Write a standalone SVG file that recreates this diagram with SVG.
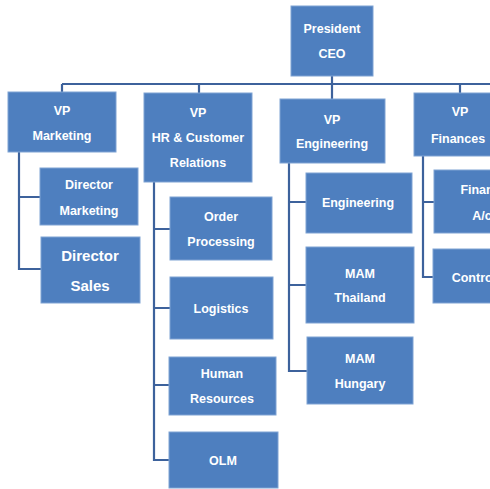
<svg xmlns="http://www.w3.org/2000/svg" width="490" height="489" viewBox="0 0 490 489">
  <style>
    .box { fill: #4e7fbf; stroke: #7fa3d3; stroke-width: 1; }
    .lbl { font-family: "Liberation Sans", Arial, sans-serif; font-weight: bold; font-size: 12.5px; fill: #ffffff; text-anchor: middle; }
    .big { font-size: 15px; }
    .conn { fill: none; stroke: #3d629c; stroke-width: 2.2; }
  </style>
  <rect width="490" height="489" fill="#ffffff"/>

  <!-- reporting lines -->
  <g id="connectors" class="conn">
    <path d="M62 84 H490"/>
    <path d="M62 84 V92 M199 84 V93 M332 76 V99 M460 84 V93"/>
    <!-- marketing -->
    <path d="M19 152 V269 H41 M19 197 H40"/>
    <!-- hr & customer relations -->
    <path d="M154 182 V460 H169 M154 229 H170 M154 308 H170 M154 385 H169"/>
    <!-- engineering -->
    <path d="M289 163 V371 H307 M289 202 H306 M289 285 H306"/>
    <!-- finances -->
    <path d="M423 156 V277 H433 M423 202 H434"/>
  </g>

  <g id="president">
    <rect class="box" x="291" y="6" width="82" height="70"/>
    <text class="lbl" x="332" y="33">President</text>
    <text class="lbl" x="332" y="58">CEO</text>
  </g>

  <g id="vp-marketing">
    <rect class="box" x="8" y="92" width="108" height="60"/>
    <text class="lbl" x="62" y="115">VP</text>
    <text class="lbl" x="62" y="140">Marketing</text>
  </g>
  <g id="vp-hr">
    <rect class="box" x="144" y="93" width="108" height="89"/>
    <text class="lbl" x="198" y="117">VP</text>
    <text class="lbl" x="198" y="142">HR &amp; Customer</text>
    <text class="lbl" x="198" y="167">Relations</text>
  </g>
  <g id="vp-engineering">
    <rect class="box" x="280" y="99" width="105" height="64"/>
    <text class="lbl" x="332" y="124">VP</text>
    <text class="lbl" x="332" y="148">Engineering</text>
  </g>
  <g id="vp-finances">
    <rect class="box" x="414" y="93" width="92" height="63"/>
    <text class="lbl" x="460" y="116">VP</text>
    <text class="lbl" x="458" y="143">Finances</text>
  </g>

  <g id="director-marketing">
    <rect class="box" x="40" y="168" width="98" height="57"/>
    <text class="lbl" x="89" y="189">Director</text>
    <text class="lbl" x="89" y="215">Marketing</text>
  </g>
  <g id="director-sales">
    <rect class="box" x="41" y="237" width="99" height="66"/>
    <text class="lbl big" x="90" y="261">Director</text>
    <text class="lbl big" x="90" y="291">Sales</text>
  </g>

  <g id="order-processing">
    <rect class="box" x="170" y="197" width="102" height="63"/>
    <text class="lbl" x="221" y="221">Order</text>
    <text class="lbl" x="221" y="246">Processing</text>
  </g>
  <g id="logistics">
    <rect class="box" x="170" y="277" width="103" height="62"/>
    <text class="lbl" x="221" y="313">Logistics</text>
  </g>
  <g id="human-resources">
    <rect class="box" x="169" y="357" width="107" height="58"/>
    <text class="lbl" x="222" y="378">Human</text>
    <text class="lbl" x="222" y="403">Resources</text>
  </g>
  <g id="olm">
    <rect class="box" x="169" y="432" width="109" height="56"/>
    <text class="lbl" x="223" y="465">OLM</text>
  </g>

  <g id="engineering">
    <rect class="box" x="306" y="173" width="106" height="60"/>
    <text class="lbl" x="358" y="207">Engineering</text>
  </g>
  <g id="mam-thailand">
    <rect class="box" x="306" y="247" width="108" height="76"/>
    <text class="lbl" x="360" y="278">MAM</text>
    <text class="lbl" x="360" y="302">Thailand</text>
  </g>
  <g id="mam-hungary">
    <rect class="box" x="307" y="337" width="106" height="67"/>
    <text class="lbl" x="360" y="363">MAM</text>
    <text class="lbl" x="360" y="388">Hungary</text>
  </g>

  <g id="finance-ac">
    <rect class="box" x="434" y="170" width="98" height="63"/>
    <text class="lbl" x="484" y="194">Finance</text>
    <text class="lbl" x="482" y="220">A/c</text>
  </g>
  <g id="controlling">
    <rect class="box" x="433" y="249" width="100" height="54"/>
    <text class="lbl" x="485" y="282">Controlling</text>
  </g>
</svg>
